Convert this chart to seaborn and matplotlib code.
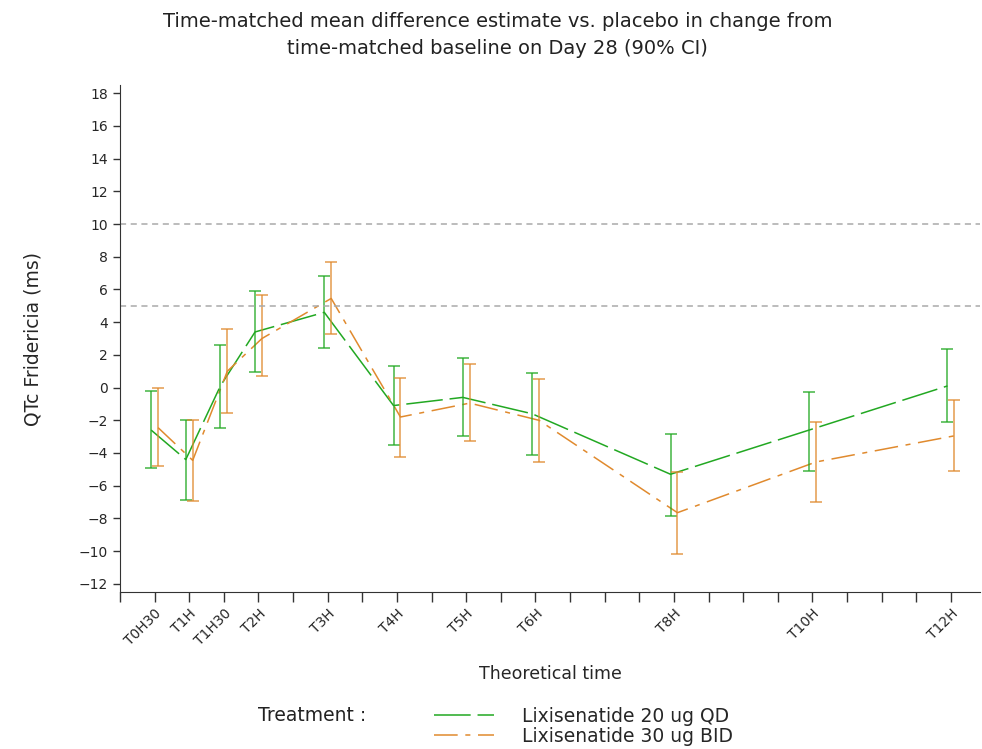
import numpy as np
import pandas as pd
import seaborn as sns
import matplotlib.pyplot as plt
from matplotlib.lines import Line2D

time_h = [0.5, 1, 1.5, 2, 3, 4, 5, 6, 8, 10, 12]
time_labels = ['T0H30', 'T1H', 'T1H30', 'T2H', 'T3H', 'T4H', 'T5H', 'T6H', 'T8H', 'T10H', 'T12H']

qd_mean = [-2.6, -4.4, 0.1, 3.4, 4.6, -1.1, -0.6, -1.6, -5.3, -2.6, 0.1]
qd_low = [-4.9, -6.9, -2.5, 0.95, 2.4, -3.5, -2.95, -4.15, -7.85, -5.1, -2.1]
qd_high = [-0.2, -2.0, 2.6, 5.9, 6.8, 1.3, 1.8, 0.9, -2.85, -0.25, 2.35]

bid_mean = [-2.45, -4.45, 1.0, 3.0, 5.45, -1.8, -0.95, -2.0, -7.65, -4.55, -2.95]
bid_low = [-4.8, -6.95, -1.55, 0.7, 3.3, -4.25, -3.25, -4.55, -10.15, -7.0, -5.1]
bid_high = [-0.05, -2.0, 3.6, 5.65, 7.65, 0.6, 1.45, 0.5, -5.15, -2.1, -0.75]

treatments = ['Lixisenatide 20 ug QD', 'Lixisenatide 30 ug BID']
colors = ['#22a822', '#e08a2e']
offsets = [-0.05, 0.05]

frames = []
for trt, m, lo, hi, off in zip(treatments, [qd_mean, bid_mean], [qd_low, bid_low],
                               [qd_high, bid_high], offsets):
    frames.append(pd.DataFrame({'time': np.array(time_h) + off, 'mean': m,
                                'low': lo, 'high': hi, 'Treatment': trt}))
df = pd.concat(frames, ignore_index=True)

sns.set_style('ticks')
plt.rcParams['font.family'] = ['DejaVu Sans']

fig = plt.figure(figsize=(9.82, 7.49), dpi=100)
ax = fig.add_axes([0.1222, 0.2096, 0.8758, 0.6769])

# long dash for QD, dash-dot for BID
dash_styles = [(24, 4.5), (15.5, 5, 3.3, 5)]
sns.lineplot(data=df, x='time', y='mean', hue='Treatment', style='Treatment',
             palette=dict(zip(treatments, colors)),
             dashes=dict(zip(treatments, dash_styles)),
             linewidth=1.1, ax=ax, legend=False, sort=True, errorbar=None)

for trt, c in zip(treatments, colors):
    sub = df[df['Treatment'] == trt]
    ax.errorbar(sub['time'], sub['mean'],
                yerr=[sub['mean'] - sub['low'], sub['high'] - sub['mean']],
                fmt='none', ecolor=c, elinewidth=1.1, capsize=4, capthick=1.1,
                alpha=0.85)

ax.axhline(5, color='#aaaaaa', linestyle=(0, (4, 3)), linewidth=1.1)
ax.axhline(10, color='#aaaaaa', linestyle=(0, (4, 3)), linewidth=1.1)

ax.set_xlim(0, 12.42)
ax.set_ylim(-12.5, 18.5)
ax.set_yticks(np.arange(-12, 19, 2))
ax.set_xticks(np.arange(0, 12.01, 0.5))
tick_lab = []
for t in np.arange(0, 12.01, 0.5):
    tick_lab.append(time_labels[time_h.index(t)] if t in time_h else '')
ax.set_xticklabels(tick_lab, rotation=45, ha='right', rotation_mode='anchor', fontsize=10)
ax.tick_params(axis='x', length=7, width=1, color='#333333')
ax.tick_params(axis='y', length=5, width=1, labelsize=10, color='#333333')
sns.despine(ax=ax)
ax.spines['left'].set_color('#333333')
ax.spines['bottom'].set_color('#333333')

ax.set_xlabel('Theoretical time', fontsize=12.5, labelpad=12)
ax.set_ylabel('QTc Fridericia (ms)', fontsize=13.5, labelpad=26)

fig.text(0.507, 0.953, 'Time-matched mean difference estimate vs. placebo in change from\n'
         'time-matched baseline on Day 28 (90% CI)', ha='center', va='center',
         fontsize=14, linespacing=1.5, color='#222222')

fig.text(0.263, 0.045, 'Treatment :', fontsize=13.5, va='center', color='#222222')
handles = [Line2D([], [], color=c, linestyle=(0, d), linewidth=1.1)
           for c, d in zip(colors, dash_styles)]
fig.legend(handles, treatments, loc='center left', bbox_to_anchor=(0.432, 0.03),
           frameon=False, fontsize=13.5, handlelength=3.2, labelspacing=0.05,
           handletextpad=1.5, borderpad=0)

fig.savefig('out.png', dpi=100)
